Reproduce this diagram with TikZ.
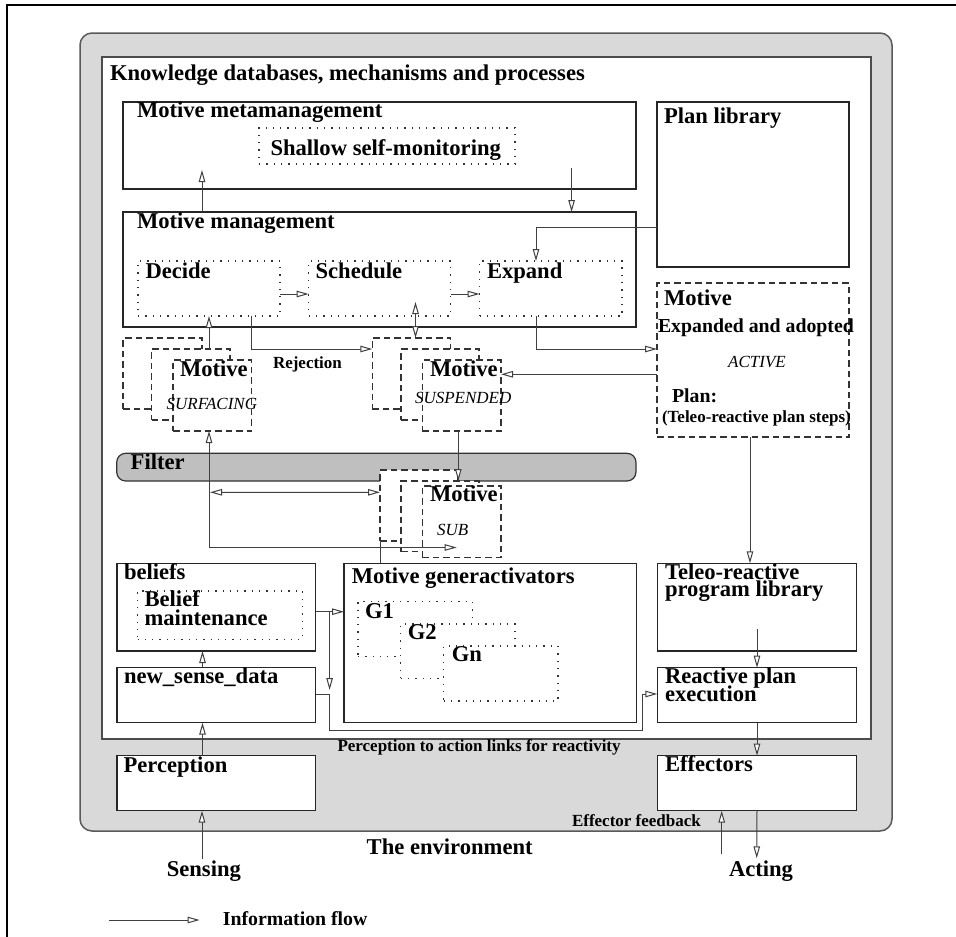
\documentclass[tikz,border=0pt]{standalone}
\usepackage{fontspec}
\setmainfont{Liberation Serif}
\usetikzlibrary{arrows.meta}

% place an empty box node by its corners: style, name, x1, y1, x2, y2
\newcommand\placebox[6]{%
  \node[#1, anchor=north west, minimum width={#5-#3}, minimum height={#6-#4}] (#2) at (#3,#4) {};}

\begin{document}
\begin{tikzpicture}[x=1pt,y=-1pt,
  solidbox/.style={draw=black!85, line width=1.4pt, fill=white, inner sep=0pt, outer sep=0pt},
  dotbox/.style={draw=black!80, line width=1.3pt, dash pattern=on 1.3pt off 6pt, fill=white, inner sep=0pt, outer sep=0pt},
  dashbox/.style={draw=black!80, line width=1.1pt, dash pattern=on 6.5pt off 4pt, fill=white, inner sep=0pt, outer sep=0pt},
  flowline/.style={draw=black!75, line width=1pt},
  flowarrow/.style={flowline, -{Triangle[fill=white,length=12pt,width=6.5pt]}},
  flowboth/.style={flowline, {Triangle[fill=white,length=12pt,width=6.5pt]}-{Triangle[fill=white,length=12pt,width=6.5pt]}},
  txtbig/.style={font=\fontsize{22.6}{22.6}\selectfont\bfseries, inner sep=0pt, outer sep=0pt, anchor=base west},
  txtmed/.style={font=\fontsize{19.8}{20}\selectfont\bfseries, inner sep=0pt, outer sep=0pt, anchor=base west},
  txtsmall/.style={font=\fontsize{17}{17}\selectfont\bfseries, inner sep=0pt, outer sep=0pt, anchor=base west},
  txtit/.style={font=\fontsize{17}{17}\selectfont\itshape, inner sep=0pt, outer sep=0pt, anchor=base west},
]
\useasboundingbox (0,0) rectangle (956,937);

% page frame
\draw[line width=2.4pt] (7,937) -- (7,5) -- (956,5);

% the agent (grey) and its knowledge area (white)
\node[draw=black!65, line width=1.5pt, fill=gray!30, rounded corners=12pt, inner sep=0pt, outer sep=0pt,
      anchor=north west, minimum width=812, minimum height=798] (agent) at (80,33) {};
\node[draw=black!70, line width=1.5pt, fill=white, inner sep=0pt, outer sep=0pt,
      anchor=north west, minimum width=769, minimum height=682] (know) at (102,57) {};

% management layers
\placebox{solidbox}{meta}{123}{102}{636}{189}
\placebox{dotbox}{shallow}{259}{128}{515}{164}
\placebox{solidbox}{mgmt}{123}{212}{636}{327}
\placebox{dotbox}{decide}{138}{261}{280}{316}
\placebox{dotbox}{schedule}{308.6}{261}{450.6}{316}
\placebox{dotbox}{expand}{479.5}{261}{622}{316}
\placebox{solidbox}{planlib}{657}{102}{849}{267}
\placebox{dashbox}{active}{657}{283}{849}{437}

% surfacing motives
\placebox{dashbox}{surfback}{123}{338}{202}{409}
\placebox{dashbox}{surfmid}{151.7}{349}{230}{420}
\placebox{dashbox}{surffront}{173}{360}{251.7}{431}
% suspended motives
\placebox{dashbox}{suspback}{372.3}{338}{450.7}{409}
\placebox{dashbox}{suspmid}{401}{349}{479}{420}
\placebox{dashbox}{suspfront}{422.3}{360}{501}{431}

% filter
\node[draw=black!80, line width=1.2pt, fill=gray!50, rounded corners=9pt, inner sep=0pt, outer sep=0pt,
      anchor=north west, minimum width=519.3, minimum height=27.7] (filter) at (116.7,453.3) {};

% sub-motives
\placebox{dashbox}{subback}{380}{470}{458}{541}
\placebox{dashbox}{submid}{401}{481}{479}{551.7}
\placebox{dashbox}{subfront}{422.3}{486}{501}{557.7}

% lower layer
\placebox{solidbox}{beliefs}{116.8}{563.3}{315.7}{651}
\placebox{dotbox}{beliefmaint}{137.5}{591}{302.5}{639.3}
\placebox{solidbox}{nsd}{116.8}{667.7}{315.7}{722.7}
\placebox{solidbox}{gen}{344}{563.3}{636.4}{722.7}
\placebox{dotbox}{gone}{357.9}{601.7}{472.5}{656.7}
\placebox{dotbox}{gtwo}{400.7}{624}{515}{678.3}
\placebox{dotbox}{gn}{443.6}{646}{557.9}{701}
\placebox{solidbox}{teleo}{657.3}{563.3}{856.7}{651}
\placebox{solidbox}{reactive}{657.3}{667.7}{856.7}{722.7}
\placebox{solidbox}{perception}{116.8}{755.7}{315.7}{810.7}
\placebox{solidbox}{effectors}{657.3}{755.7}{856.7}{810.7}

% free ends
\coordinate (fbstart) at (721.7,854.3);
\coordinate (actend) at (756.7,858.3);
\coordinate (sensestart) at (202,859.3);
\coordinate (legA) at (108.6,920);
\coordinate (legB) at (199.6,920);

% information flow
\draw[flowarrow] ([xshift=79pt]mgmt.north west) -- ([xshift=79pt,yshift=19pt]meta.south west);
\draw[flowarrow] ([xshift=-64.4pt,yshift=21pt]meta.south east) -- ([xshift=-64.4pt]mgmt.north east);
\draw[flowarrow] ([yshift=-125.7pt]planlib.north west) -| ([xshift=56.5pt]expand.north west);
\draw[flowarrow] ([yshift=-33pt]decide.north east) -- ([yshift=-33pt]schedule.north west);
\draw[flowarrow] ([yshift=-33pt]schedule.north east) -- ([yshift=-33pt]expand.north west);
\draw[flowboth] ([xshift=106.9pt,yshift=14pt]schedule.south west) -- ([xshift=43.2pt]suspback.north west);
\draw[flowarrow] ([xshift=57.3pt]surfmid.north west) -- ([xshift=71pt]decide.south west);
\draw[flowarrow] ([xshift=-28.5pt]decide.south east) |- ([yshift=-11pt]suspback.north west);
\draw[flowarrow] ([xshift=56.5pt]expand.south west) |- ([yshift=-66pt]active.north west);
\draw[flowarrow] ([yshift=-91.3pt]active.north west) -- ([yshift=-14.3pt]suspfront.north east);
\draw[flowarrow] ([xshift=36pt]suspfront.south west) -- ([xshift=57.3pt]submid.north west);
\draw[flowboth] ([xshift=36pt]surffront.south west) |- ([xshift=34.4pt,yshift=10.2pt]subfront.south west);
\draw[flowboth] ([xshift=93.3pt,yshift=-11.3pt]filter.south west) -- ([yshift=-22.3pt]subback.north west);
\draw[flowline] (subback.south west) -- (subback.south west |- gen.north);
\draw[flowarrow] ([xshift=85.7pt]nsd.north west) -- ([xshift=85.7pt]beliefs.south west);
\draw[flowarrow] ([xshift=85.7pt]perception.north west) -- ([xshift=85.7pt]nsd.south west);
\draw[flowarrow] ([yshift=-48.4pt]beliefs.north east) -- ([yshift=-48.4pt]gen.north west);
\draw[flowarrow] ([xshift=13.9pt,yshift=-48.4pt]beliefs.north east) -- ([xshift=13.9pt,yshift=-22.3pt]nsd.north east);
\draw[flowarrow] ([yshift=-26.3pt]nsd.north east) -| ([xshift=13.9pt,yshift=-7.3pt]nsd.south east)
  -| ([xshift=-14.6pt,yshift=-26.3pt]reactive.north west) -- ([yshift=-26.3pt]reactive.north west);
\draw[flowarrow] ([xshift=-3pt]active.south) -- ([xshift=92.7pt]teleo.north west);
\draw[flowarrow] ([yshift=21.7pt]teleo.south) -- (reactive.north);
\draw[flowarrow] (reactive.south) -- (effectors.north);
\draw[flowarrow] (fbstart) -- (fbstart |- effectors.south);
\draw[flowarrow] (effectors.south) -- (actend);
\draw[flowarrow] (sensestart) -- (sensestart |- perception.south);
\draw[flowarrow] (legA) -- (legB);

% labels
\node[txtbig] (tknow) at (110,80) {Knowledge databases, mechanisms and processes};
\node[txtbig] (tmeta) at (137,117) {Motive metamanagement};
\node[txtbig] (tshallow) at (270.5,155) {Shallow self-monitoring};
\node[txtbig] (tmgmt) at (137,228) {Motive management};
\node[txtbig] (tdecide) at (145.5,278) {Decide};
\node[txtbig] (tschedule) at (315.6,278) {Schedule};
\node[txtbig] (texpand) at (487,278) {Expand};
\node[txtbig] (tplanlib) at (664,123) {Plan library};
\node[txtbig] (tactive) at (664,305) {Motive};
\node[txtmed] (texpadopt) at (658,332) {Expanded and adopted};
\node[txtit, anchor=base] (tactivestate) at (757,367) {ACTIVE};
\node[txtmed] (tplan) at (672,402) {Plan:};
\node[txtsmall] (tsteps) at (662,422) {(Teleo-reactive plan steps)};
\node[txtsmall] (treject) at (273,368) {Rejection};
\node[txtbig] (tsurf) at (180,376.7) {Motive};
\node[txtit] (tsurfstate) at (166.7,409) {SURFACING};
\node[txtbig] (tsusp) at (430,376.7) {Motive};
\node[txtit] (tsuspstate) at (415,403) {SUSPENDED};
\node[txtbig] (tfilter) at (130.7,469.3) {Filter};
\node[txtbig] (tsub) at (430,501.7) {Motive};
\node[txtit] (tsubstate) at (437,535) {SUB};
\node[txtbig] (tbeliefs) at (124,579.3) {beliefs};
\node[txtbig] (tbm1) at (144.6,606.7) {Belief};
\node[txtbig] (tbm2) at (144.6,625) {maintenance};
\node[txtbig] (tnsd) at (124,683.3) {new\_sense\_data};
\node[txtbig] (tgen) at (351.8,583.3) {Motive generactivators};
\node[txtbig] (tgone) at (365,618.3) {G1};
\node[txtbig] (tgtwo) at (407.9,639.3) {G2};
\node[txtbig] (tgn) at (451.8,661.7) {Gn};
\node[txtbig] (tteleo1) at (665,579.3) {Teleo-reactive};
\node[txtbig] (tteleo2) at (665,596.7) {program library};
\node[txtbig] (treact1) at (665,683.3) {Reactive plan};
\node[txtbig] (treact2) at (665,701.7) {execution};
\node[txtsmall] (tlinks) at (337.5,751.7) {Perception to action links for reactivity};
\node[txtbig] (tperc) at (123.6,772.3) {Perception};
\node[txtbig] (teff) at (665,771.7) {Effectors};
\node[txtsmall] (tfeedback) at (572,826.7) {Effector feedback};
\node[txtbig] (tenv) at (366.7,854) {The environment};
\node[txtbig] (tsensing) at (166.8,876.7) {Sensing};
\node[txtbig] (tacting) at (729,876.7) {Acting};
\node[txtmed] (tlegend) at (222.8,925) {Information flow};
\end{tikzpicture}
\end{document}
